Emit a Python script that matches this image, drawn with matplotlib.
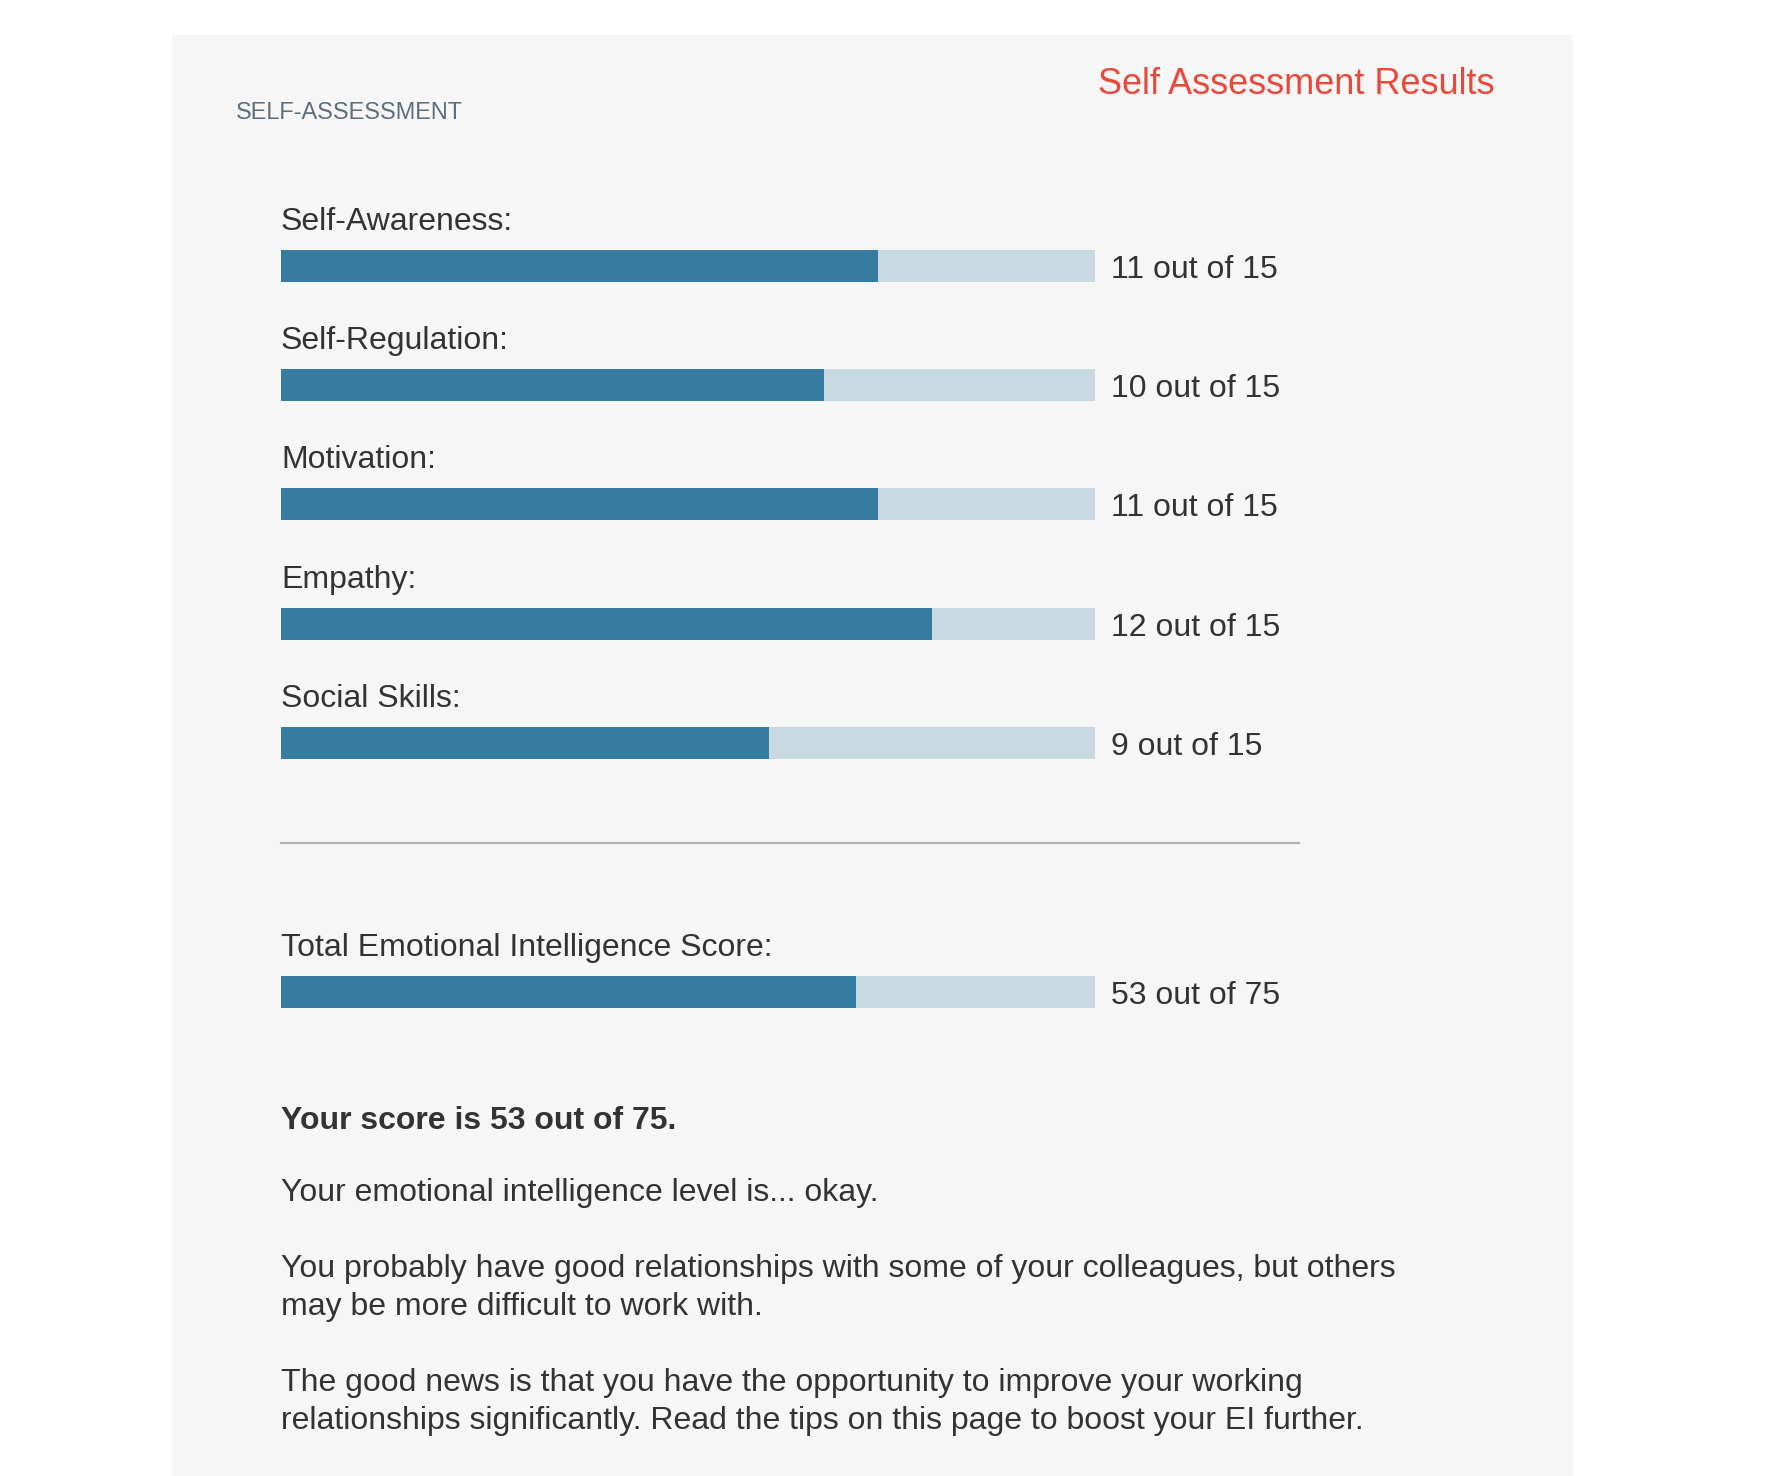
import matplotlib
matplotlib.use("Agg")
import matplotlib.pyplot as plt
from matplotlib.patches import Rectangle
from matplotlib.lines import Line2D

# data
categories = ["Self-Awareness", "Self-Regulation", "Motivation", "Empathy", "Social Skills"]
scores = [11, 10, 11, 12, 9]
max_score = 15
total_label = "Total Emotional Intelligence Score"
total_score = 53
total_max = 75
paragraphs = [
    ["Your emotional intelligence level is... okay."],
    ["You probably have good relationships with some of your colleagues, but others",
     "may be more difficult to work with."],
    ["The good news is that you have the opportunity to improve your working",
     "relationships significantly. Read the tips on this page to boost your EI further."],
]

W, H = 1786, 1476
DARK = "#367ba0"
LIGHT = "#c7d9e1"
TXT = "#333333"
FS = 23.0

plt.rcParams["font.family"] = ["Liberation Sans", "DejaVu Sans"]

fig = plt.figure(figsize=(W / 100, H / 100), dpi=100)
fig.patch.set_facecolor("white")


def fx(x):
    return x / W


def fy(y):
    return 1 - y / H


# grey card
fig.add_artist(Rectangle((fx(172), 0), fx(1573) - fx(172), fy(35),
                         transform=fig.transFigure, facecolor="#f6f6f6",
                         edgecolor="none", zorder=0))

fig.text(fx(236), fy(118.7), "SELF-ASSESSMENT", fontsize=16.9, color="#5f6e7d", va="baseline")
fig.text(fx(1494), fy(94), "Self Assessment Results", fontsize=26, color="#e8493b",
         ha="right", va="baseline")

row = 119.25      # px between bars
bar_h = 32 / row  # bar thickness in row units
left, right = 281, 1095


def bar_axes(center_top, center_bottom):
    top = center_top - row / 2
    bottom = center_bottom + row / 2
    a = fig.add_axes([fx(left), fy(bottom), fx(right) - fx(left), (bottom - top) / H])
    a.axis("off")
    return a


def label_and_value(a, y, name, text, xmax):
    a.annotate(name + ":", xy=(0, y), xytext=(0, 36 * 0.72), textcoords="offset points",
               ha="left", va="baseline", fontsize=FS, color=TXT, annotation_clip=False)
    a.annotate(text, xy=(xmax, y), xytext=(16 * 0.72, -12 * 0.72), textcoords="offset points",
               ha="left", va="baseline", fontsize=FS, color=TXT, annotation_clip=False)


ax = bar_axes(266, 266 + row * (len(categories) - 1))
ypos = list(range(len(categories)))
ax.set_xlim(0, max_score)
ax.set_ylim(len(categories) - 0.5, -0.5)
ax.barh(ypos, [max_score] * len(categories), height=bar_h, color=LIGHT, linewidth=0)
ax.barh(ypos, scores, height=bar_h, color=DARK, linewidth=0)
for i, (name, s) in enumerate(zip(categories, scores)):
    label_and_value(ax, i, name, f"{s} out of {max_score}", max_score)

# divider
fig.add_artist(Line2D([fx(281), fx(1299)], [fy(843), fy(843)], transform=fig.transFigure,
                      color="#b3b3b3", lw=1.6))

ax2 = bar_axes(992, 992)
ax2.set_xlim(0, total_max)
ax2.set_ylim(0.5, -0.5)
ax2.barh([0], [total_max], height=bar_h, color=LIGHT, linewidth=0)
ax2.barh([0], [total_score], height=bar_h, color=DARK, linewidth=0)
label_and_value(ax2, 0, total_label, f"{total_score} out of {total_max}", total_max)

fig.text(fx(281), fy(1129), f"Your score is {total_score} out of {total_max}.",
         fontsize=FS, fontweight="bold", color=TXT, va="baseline")

y = 1201
for para in paragraphs:
    for line in para:
        fig.text(fx(281), fy(y), line, fontsize=FS, color=TXT, va="baseline")
        y += 37.5
    y += 39

fig.savefig("out.png", dpi=100, facecolor=fig.get_facecolor())
